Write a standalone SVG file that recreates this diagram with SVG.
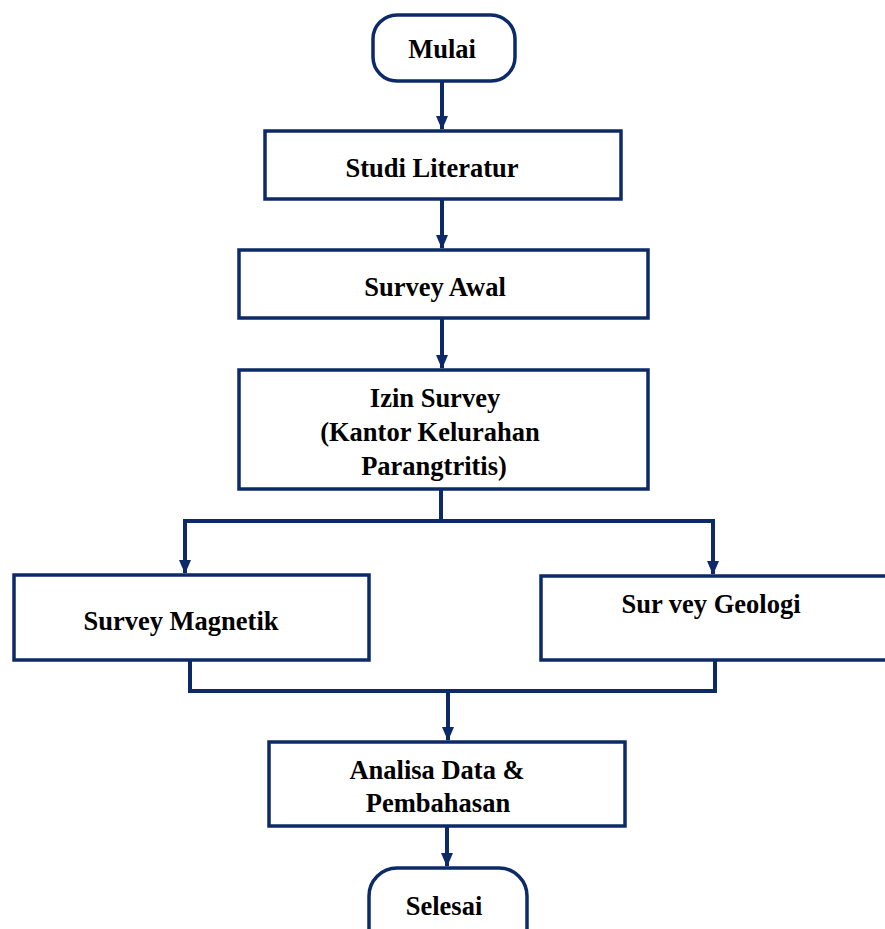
<svg xmlns="http://www.w3.org/2000/svg" width="885" height="929" viewBox="0 0 885 929">
<style>
.b{fill:#fff;stroke:#0c2a67;stroke-width:3.5}
.c{fill:none;stroke:#0c2a67;stroke-width:4}
.t{font-family:"Liberation Serif","Times New Roman",serif;font-weight:bold;font-size:26.5px;fill:#000;text-anchor:middle}
</style>
<defs>
<marker id="ah" viewBox="0 0 14 12" refX="13" refY="6" markerWidth="14" markerHeight="12" markerUnits="userSpaceOnUse" orient="auto">
<path d="M0,0 L14,6 L0,12 Z" fill="#0c2a67"/>
</marker>
</defs>
<rect width="885" height="929" fill="#fff"/>
<g id="connectors">
<line class="c" x1="442" y1="82" x2="442" y2="129" marker-end="url(#ah)"/>
<line class="c" x1="442" y1="199" x2="442" y2="248" marker-end="url(#ah)"/>
<line class="c" x1="442" y1="318" x2="442" y2="368" marker-end="url(#ah)"/>
<path class="c" d="M441,489 V521"/>
<path class="c" d="M183,521 H715"/>
<line class="c" x1="185" y1="521" x2="185" y2="573" marker-end="url(#ah)"/>
<line class="c" x1="713" y1="521" x2="713" y2="574" marker-end="url(#ah)"/>
<path class="c" d="M190,660 V691 M715,660 V691 M188,691 H717"/>
<line class="c" x1="448" y1="691" x2="448" y2="740" marker-end="url(#ah)"/>
<line class="c" x1="447" y1="819" x2="447" y2="866" marker-end="url(#ah)"/>
</g>
<g id="mulai">
<rect class="b" x="373" y="15" width="142" height="66" rx="24"/>
<text class="t" x="442" y="58">Mulai</text>
</g>
<g id="studi">
<rect class="b" x="265" y="131" width="356" height="68"/>
<text class="t" x="432" y="177">Studi Literatur</text>
</g>
<g id="awal">
<rect class="b" x="239" y="250" width="409" height="68"/>
<text class="t" x="435" y="296">Survey Awal</text>
</g>
<g id="izin">
<rect class="b" x="239" y="370" width="409" height="119"/>
<text class="t" x="435" y="407">Izin Survey</text>
<text class="t" x="430" y="441">(Kantor Kelurahan</text>
<text class="t" x="434" y="475">Parangtritis)</text>
</g>
<g id="magnetik">
<rect class="b" x="14" y="575" width="355" height="85"/>
<text class="t" x="181" y="630">Survey Magnetik</text>
</g>
<g id="geologi">
<rect class="b" x="541" y="576" width="360" height="84"/>
<text class="t" x="711" y="613">Sur vey Geologi</text>
</g>
<g id="analisa">
<rect class="b" x="269" y="742" width="356" height="84"/>
<text class="t" x="437" y="779">Analisa Data &amp;</text>
<text class="t" x="438" y="812">Pembahasan</text>
</g>
<g id="selesai">
<rect class="b" x="369" y="868" width="158" height="90" rx="28"/>
<text class="t" x="444" y="915">Selesai</text>
</g>
</svg>
